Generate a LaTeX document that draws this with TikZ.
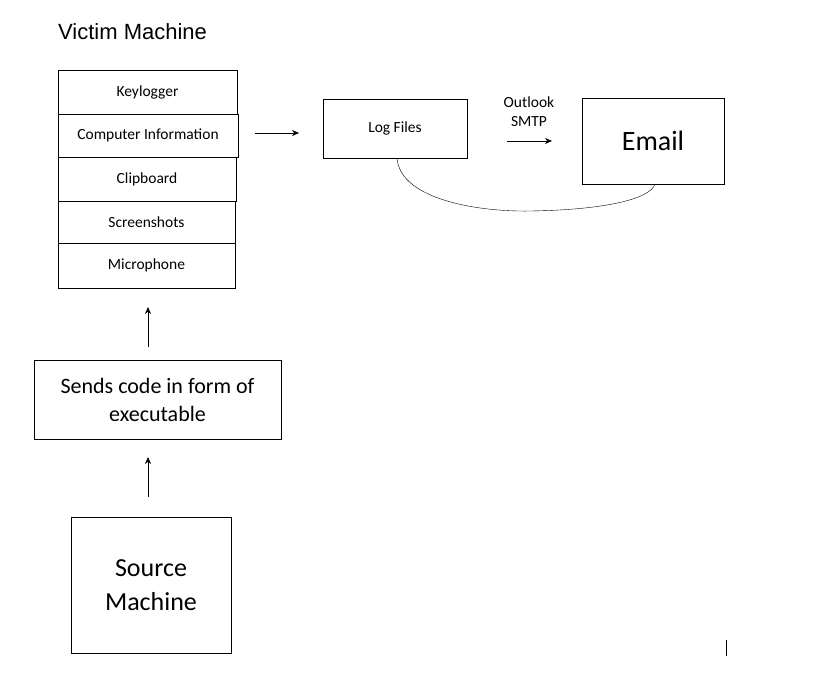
\documentclass[tikz,border=0pt]{standalone}
\usetikzlibrary{arrows.meta}
\usepackage{fontspec}
\setmainfont{Carlito}
\newfontfamily\arialf{Liberation Sans}
\begin{document}
\begin{tikzpicture}[x=1pt,y=-1pt,
  arr/.style={-{Stealth[length=7pt,width=6pt]},semithick},
  sm/.style={font=\fontsize{15.5}{18}\selectfont}]
\useasboundingbox (0,0) rectangle (830,680);
\fill[white] (0,0) rectangle (830,680);
\node[anchor=west,inner sep=0pt,font=\arialf\fontsize{22}{26}\selectfont] (vt) at (58,32) {Victim Machine};
\path[draw,thick] (58,70) rectangle (237,114) node[midway,sm] (k) {Keylogger};
\path[draw,thick] (58,114) rectangle (238,157) node[midway,sm] (ci) {Computer Information};
\path[draw,thick] (58,157) rectangle (236,201) node[midway,sm] (cb) {Clipboard};
\path[draw,thick] (58,201) rectangle (235,243) node[midway,sm] (ss) {Screenshots};
\path[draw,thick] (58,243) rectangle (235,288) node[midway,sm] (mic) {Microphone};
\path[draw,thick] (34,360) rectangle (281,439) node[midway,align=center,font=\fontsize{22}{28}\selectfont] (send) {Sends code in form of\\executable};
\path[draw,thick] (71,517) rectangle (231,653) node[midway,align=center,font=\fontsize{26}{34}\selectfont] (src) {Source\\Machine};
\path[draw,thick] (323,99) rectangle (467,158) node[midway,sm] (log) {Log Files};
\path[draw,thick] (582,98) rectangle (724,184) node[midway,font=\fontsize{28}{32}\selectfont] (em) {Email};
\coordinate (a1) at (148,347); \coordinate (a2) at (148,307);
\coordinate (b1) at (148,497); \coordinate (b2) at (148,457);
\coordinate (c1) at (255,133); \coordinate (c2) at (299,133);
\coordinate (d1) at (507,141); \coordinate (d2) at (552,141);
\draw[arr] (a1) -- (a2);
\draw[arr] (b1) -- (b2);
\draw[arr] (c1) -- (c2);
\draw[arr] (d1) -- (d2);
\node[align=center,font=\fontsize{15.5}{19}\selectfont] (ol) at (529,112) {Outlook\\SMTP};
\coordinate (e1) at (397,158); \coordinate (e2) at (655,184);
\coordinate (em1) at (530,211);
\draw (e1) .. controls (400,200) and (480,212) .. (em1) .. controls (600,210) and (650,200) .. (e2);
\coordinate (v1) at (726,640); \coordinate (v2) at (726,656);
\draw (v1) -- (v2);
\end{tikzpicture}
\end{document}
